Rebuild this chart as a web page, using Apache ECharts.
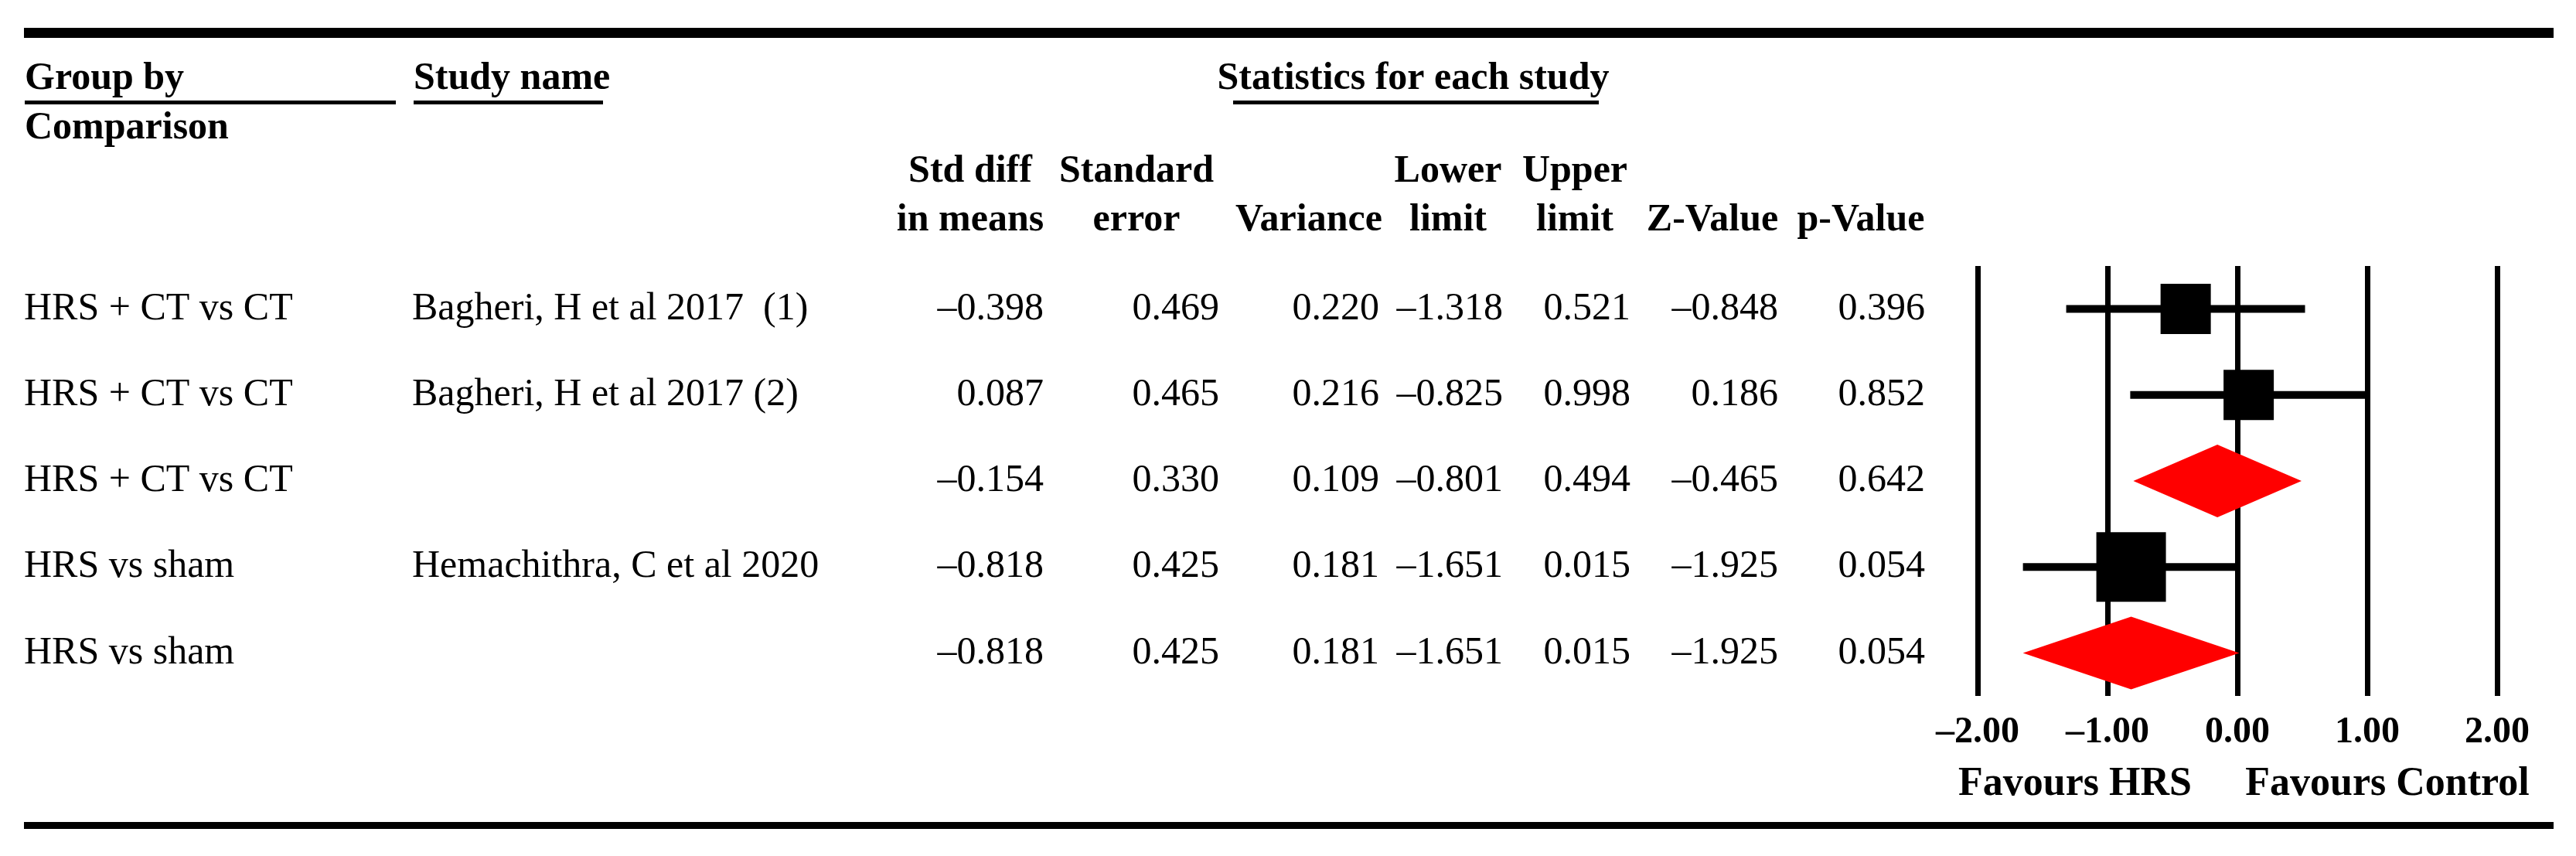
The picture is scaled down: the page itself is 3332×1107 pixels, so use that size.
<!DOCTYPE html>
<html>
<head>
<meta charset="utf-8">
<script src="https://cdn.jsdelivr.net/npm/echarts@6/dist/echarts.min.js"></script>
<style>
html,body{margin:0;padding:0;background:#fff;}
#chart{width:3332px;height:1107px;}
</style>
</head>
<body>
<div id="chart"></div>
<script>
// ---- data ----
const groups = ['HRS + CT vs CT', 'HRS + CT vs CT', 'HRS + CT vs CT', 'HRS vs sham', 'HRS vs sham'];
const studies = ['Bagheri, H et al 2017  (1)', 'Bagheri, H et al 2017 (2)', '', 'Hemachithra, C et al 2020', ''];
const stdDiff = [-0.398, 0.087, -0.154, -0.818, -0.818];
const stdErr = [0.469, 0.465, 0.330, 0.425, 0.425];
const variance = [0.220, 0.216, 0.109, 0.181, 0.181];
const lowerLimit = [-1.318, -0.825, -0.801, -1.651, -1.651];
const upperLimit = [0.521, 0.998, 0.494, 0.015, 0.015];
const zValue = [-0.848, 0.186, -0.465, -1.925, -1.925];
const pValue = [0.396, 0.852, 0.642, 0.054, 0.054];
const isSummary = [false, false, true, false, true];
const xAxisMin = -2, xAxisMax = 2, xAxisStep = 1;

// ---- layout / style ----
const FONT = '"Liberation Serif", "Times New Roman", serif';
const boxSize = [65, 65, 0, 90, 0];
const diamondHalfHeight = 47;
const rowIdx = groups.map((_, i) => i);
const gridTop = 344, gridHeight = 556;

function fmt(v, d) {
  const s = Math.abs(v).toFixed(d);
  return v < 0 ? '\u2013' + s : s;
}

const columns = [
  {x: 31, align: 'left', get: i => groups[i]},
  {x: 533, align: 'left', get: i => studies[i]},
  {x: 1350, align: 'right', get: i => fmt(stdDiff[i], 3)},
  {x: 1577, align: 'right', get: i => fmt(stdErr[i], 3)},
  {x: 1784, align: 'right', get: i => fmt(variance[i], 3)},
  {x: 1944, align: 'right', get: i => fmt(lowerLimit[i], 3)},
  {x: 2109, align: 'right', get: i => fmt(upperLimit[i], 3)},
  {x: 2300, align: 'right', get: i => fmt(zValue[i], 3)},
  {x: 2490, align: 'right', get: i => fmt(pValue[i], 3)}
];

const tableSeries = columns.map(col => ({
  type: 'custom',
  xAxisIndex: 1,
  yAxisIndex: 1,
  silent: true,
  data: rowIdx.map(i => [col.x, i]),
  renderItem: function (params, api) {
    const p = api.coord([api.value(0), api.value(1)]);
    return {
      type: 'text',
      x: p[0], y: p[1],
      style: {
        text: col.get(params.dataIndex),
        fill: '#000',
        font: '50px ' + FONT,
        align: col.align, textAlign: col.align,
        verticalAlign: 'middle', textVerticalAlign: 'middle'
      }
    };
  }
}));

const forestSeries = {
  type: 'custom',
  xAxisIndex: 0,
  yAxisIndex: 0,
  silent: true,
  data: rowIdx.map(i => [stdDiff[i], i, lowerLimit[i], upperLimit[i]]),
  renderItem: function (params, api) {
    const i = params.dataIndex;
    const c = api.coord([api.value(0), api.value(1)]);
    const lo = api.coord([api.value(2), api.value(1)]);
    const hi = api.coord([api.value(3), api.value(1)]);
    if (isSummary[i]) {
      const h = diamondHalfHeight;
      return {
        type: 'polygon',
        shape: {points: [[lo[0], c[1]], [c[0], c[1] - h], [hi[0], c[1]], [c[0], c[1] + h]]},
        style: {fill: '#ff0000'}
      };
    }
    const s = boxSize[i];
    return {
      type: 'group',
      children: [
        {type: 'line', shape: {x1: lo[0], y1: c[1], x2: hi[0], y2: c[1]}, style: {stroke: '#000', lineWidth: 10}},
        {type: 'rect', shape: {x: c[0] - s / 2, y: c[1] - s / 2, width: s, height: s}, style: {fill: '#000'}}
      ]
    };
  }
};

function hText(text, x, y, align, size, bold) {
  return {
    type: 'text', x: x, y: y, silent: true,
    style: {
      text: text, fill: '#000',
      font: (bold ? 'bold ' : '') + (size || 50) + 'px ' + FONT,
      align: align, textAlign: align,
      verticalAlign: 'middle', textVerticalAlign: 'middle'
    }
  };
}
function bar(x, y, w, h) {
  return {type: 'rect', silent: true, shape: {x: x, y: y, width: w, height: h}, style: {fill: '#000'}};
}

const graphics = [
  bar(31, 36, 3272, 13),
  bar(31, 1063, 3272, 9),
  hText('Group by', 32, 102, 'left', 50, true),
  bar(32, 130, 480, 5),
  hText('Study name', 535, 102, 'left', 50, true),
  bar(535, 130, 245, 5),
  hText('Statistics for each study', 1828, 102, 'center', 50, true),
  bar(1595, 130, 473, 5),
  hText('Comparison', 32, 166, 'left', 50, true),
  hText('Std diff', 1255, 222, 'center', 50, true),
  hText('in means', 1255, 285, 'center', 50, true),
  hText('Standard', 1470, 222, 'center', 50, true),
  hText('error', 1470, 285, 'center', 50, true),
  hText('Variance', 1693, 285, 'center', 50, true),
  hText('Lower', 1873, 222, 'center', 50, true),
  hText('limit', 1873, 285, 'center', 50, true),
  hText('Upper', 2037, 222, 'center', 50, true),
  hText('limit', 2037, 285, 'center', 50, true),
  hText('Z-Value', 2215, 285, 'center', 50, true),
  hText('p-Value', 2407, 285, 'center', 50, true),
  hText('Favours HRS', 2684, 1015, 'center', 52, true),
  hText('Favours Control', 3088, 1015, 'center', 52, true)
];

const chart = echarts.init(document.getElementById('chart'), null, {renderer: 'canvas'});
chart.setOption({
  backgroundColor: '#fff',
  animation: false,
  grid: [
    {left: 2558, width: 672, top: gridTop, height: gridHeight, containLabel: false},
    {left: 0, width: 3332, top: gridTop, height: gridHeight, containLabel: false}
  ],
  xAxis: [
    {
      type: 'value', gridIndex: 0, min: xAxisMin, max: xAxisMax, interval: xAxisStep,
      axisLine: {show: false}, axisTick: {show: false},
      splitLine: {show: true, lineStyle: {color: '#000', width: 7}},
      axisLabel: {
        show: true, margin: 24, color: '#000', fontFamily: FONT, fontSize: 48, fontWeight: 'bold',
        formatter: v => fmt(v, 2)
      }
    },
    {type: 'value', gridIndex: 1, min: 0, max: 3332, show: false}
  ],
  yAxis: [
    {type: 'category', gridIndex: 0, data: rowIdx, inverse: true, show: false},
    {type: 'category', gridIndex: 1, data: rowIdx, inverse: true, show: false}
  ],
  graphic: graphics,
  series: [forestSeries].concat(tableSeries)
});
</script>
</body>
</html>
